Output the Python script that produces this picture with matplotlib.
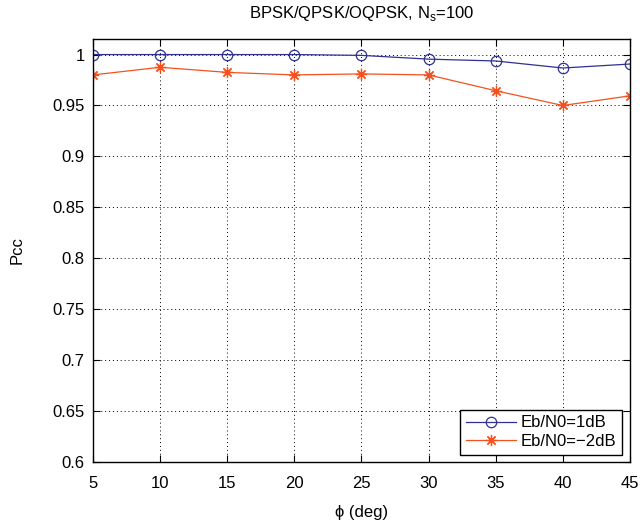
import matplotlib
matplotlib.use("Agg")
import matplotlib.pyplot as plt

plt.rcParams["font.family"] = ["Liberation Sans", "DejaVu Sans"]
plt.rcParams["mathtext.fontset"] = "custom"
plt.rcParams["mathtext.rm"] = "Liberation Sans"

# ── Data ──────────────────────────────────────────────────────────────────────
phi_deg = [5, 10, 15, 20, 25, 30, 35, 40, 45]
pcc_1db = [1.0, 1.0, 1.0, 1.0, 0.9992, 0.9955, 0.9937, 0.9868, 0.9907]
pcc_m2db = [0.980, 0.9875, 0.9825, 0.980, 0.981, 0.980, 0.9645, 0.950, 0.9595]
yticks = [0.6, 0.65, 0.7, 0.75, 0.8, 0.85, 0.9, 0.95, 1.0]
ytick_labels = ["0.6", "0.65", "0.7", "0.75", "0.8", "0.85", "0.9", "0.95", "1"]

BLUE = "#2e3192"
RED = "#f4511e"

fig = plt.figure(figsize=(6.4, 5.28), dpi=100, facecolor="white")
ax = fig.add_axes([0.1453, 0.125, 0.839, 0.801])

ax.plot(phi_deg, pcc_1db, color=BLUE, linewidth=0.9, marker="o", markersize=7.5,
        markerfacecolor="none", markeredgecolor=BLUE, markeredgewidth=0.9,
        label="Eb/N0=1dB")
ax.plot(phi_deg, pcc_m2db, color=RED, linewidth=0.9, marker=(8, 2, 0), markersize=8,
        markerfacecolor="none", markeredgecolor=RED, markeredgewidth=0.9,
        label="Eb/N0=\u22122dB")

ax.set_xlim(5, 45)
ax.set_ylim(0.6, 1.0152)
ax.set_xticks(phi_deg)
ax.set_yticks(yticks)
ax.set_yticklabels(ytick_labels)
ax.tick_params(direction="in", top=True, right=True, labelsize=12, length=5, pad=6)
ax.tick_params(axis="x", pad=10)
ax.grid(True, color="black", linestyle=(0, (1, 3)), linewidth=0.7)
for sp in ax.spines.values():
    sp.set_linewidth(1.0)

ax.set_title("BPSK/QPSK/OQPSK, N$_\\mathregular{s}$=100", fontsize=12, pad=15)
ax.set_xlabel("\u03d5 (deg)", fontsize=12, labelpad=10)
ax.set_ylabel("Pcc", fontsize=12, labelpad=20)

leg = ax.legend(loc="lower right", fontsize=12, fancybox=False, framealpha=1,
                edgecolor="black", borderaxespad=0.45, handlelength=3.0,
                borderpad=0.35, labelspacing=0.2, handletextpad=0.3)
leg.get_frame().set_linewidth(1.0)

fig.savefig("out.png", dpi=100, facecolor="white")
